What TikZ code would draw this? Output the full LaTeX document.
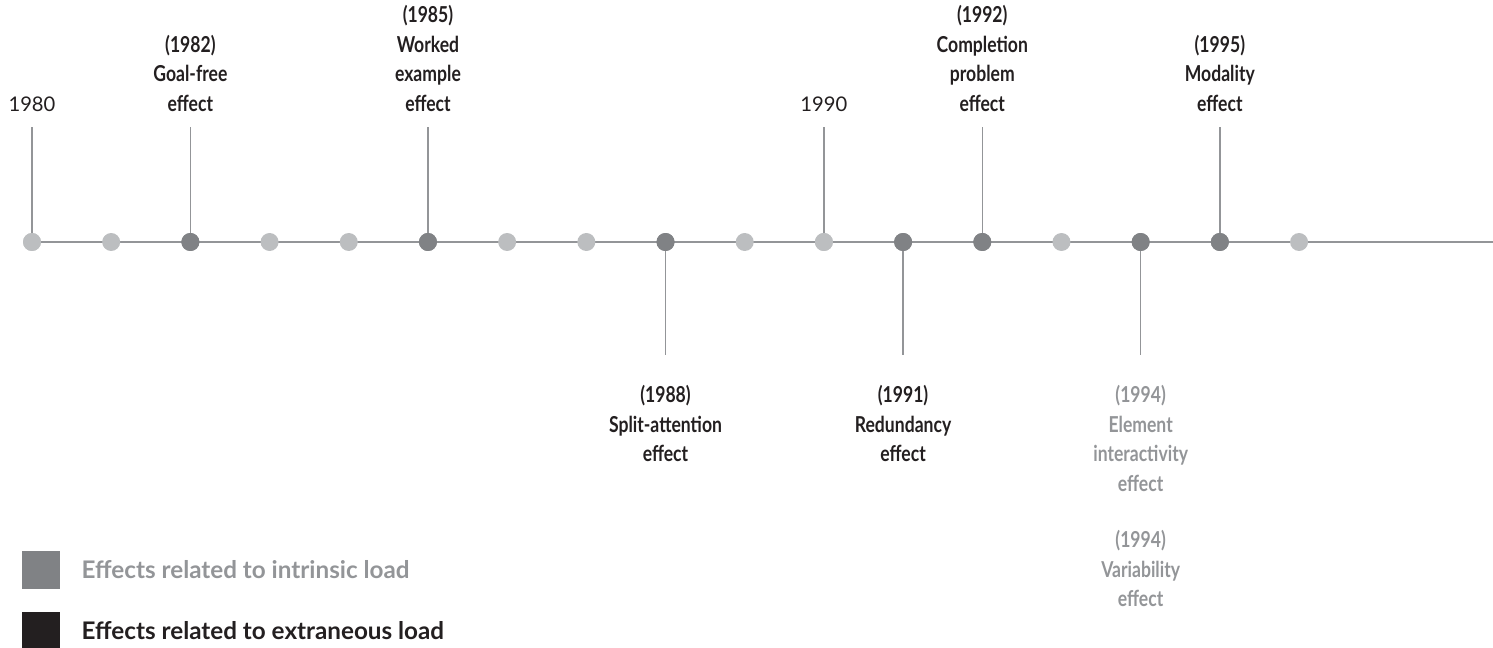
\documentclass[tikz,border=0pt]{standalone}
\usepackage{fontspec}
\setmainfont{Lato}
\newfontfamily\narrowfont[FakeStretch=0.8]{Lato}
\usetikzlibrary{positioning}

\definecolor{dotlight}{HTML}{BCBEC0}
\definecolor{dotdark}{HTML}{808285}
\definecolor{axisgray}{HTML}{939598}
\definecolor{inkdark}{HTML}{231F20}
\definecolor{inkgray}{HTML}{939598}

\tikzset{
	dot/.style={circle, inner sep=0pt, minimum size=0.36cm},
	axis/.style={draw=axisgray, line width=0.8pt},
	stem/.style={draw=axisgray, line width=0.8pt},
	effect/.style={align=center, inner sep=0pt, text=inkdark,
		font=\narrowfont\bfseries\fontsize{12.5}{16.8}\selectfont},
	yearlabel/.style={inner sep=0pt, text=inkdark, font=\fontsize{11.5}{13}\selectfont},
	legendbox/.style={inner sep=0pt, minimum size=0.76cm},
	legendtext/.style={inner sep=0pt, anchor=west,
		font=\bfseries\fontsize{13.8}{16}\selectfont}
}

\begin{document}
\begin{tikzpicture}[x=0.02cm, y=-0.02cm]
		\useasboundingbox (0,0) rectangle (1493,648);
		% axis
		\coordinate (axisend) at (1493,242);
		\node[dot] (d0) at (32,242) {};
		\path[axis] (d0.center) -- (axisend);
		\foreach \i/\c in {0/dotlight,1/dotlight,2/dotdark,3/dotlight,4/dotlight,5/dotdark,
			6/dotlight,7/dotlight,8/dotdark,9/dotlight,10/dotlight,11/dotdark,12/dotdark,
			13/dotlight,14/dotdark,15/dotdark,16/dotlight}
			\node[dot, fill=\c] (d\i) at ({32+79.19*\i},242) {};
		
		% labels above
		\node[yearlabel, above=2.42cm of d0] (l0) {1980};
		\node[yearlabel, above=2.42cm of d10] (l10) {1990};
		\node[effect, above=2.42cm of d2] (l2) {(1982)\\Goal-free\\effect};
		\node[effect, above=2.42cm of d5] (l5) {(1985)\\Worked\\example\\effect};
		\node[effect, above=2.42cm of d12] (l12) {(1992)\\Completion\\problem\\effect};
		\node[effect, above=2.42cm of d15] (l15) {(1995)\\Modality\\effect};
		
		% labels below
		\node[effect, below=2.68cm of d8] (l8) {(1988)\\Split-attention\\effect};
		\node[effect, below=2.68cm of d11] (l11) {(1991)\\Redundancy\\effect};
		\node[effect, text=inkgray, below=2.68cm of d14] (l14) {(1994)\\Element\\interactivity\\effect};
		\node[effect, text=inkgray, below=0.76cm of l14] (l14b) {(1994)\\Variability\\effect};
		
		\foreach \i in {0,2,5,10,12,15}
			\path[stem, shorten >=0.3cm] (d\i.center) -- (l\i);
		\foreach \i in {8,11,14}
			\path[stem, shorten >=0.6cm] (d\i.center) -- (l\i);
		% redraw dots over stems
		\foreach \i/\c in {0/dotlight,2/dotdark,5/dotdark,8/dotdark,10/dotlight,
			11/dotdark,12/dotdark,14/dotdark,15/dotdark}
			\node[dot, fill=\c] at (d\i) {};
		
		% legend
		\node[legendbox, fill=dotdark] (k1) at (41,570) {};
		\node[legendbox, fill=inkdark] (k2) at (41,631) {};
		\node[legendtext, text=inkgray, right=0.42cm of k1] (t1) {Effects related to intrinsic load};
		\node[legendtext, text=inkdark, right=0.42cm of k2] (t2) {Effects related to extraneous load};
\end{tikzpicture}
\end{document}
